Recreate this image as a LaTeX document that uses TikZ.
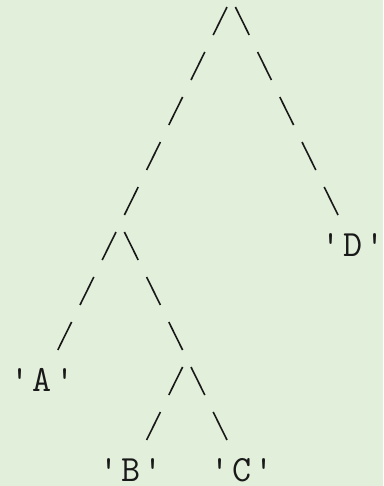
\documentclass[tikz,border=0pt]{standalone}
\usepackage{fontspec}
\usepackage{tikz}
\definecolor{paper}{RGB}{226,239,218}
\definecolor{ink}{RGB}{25,25,25}
\newcommand{\leaflabel}[1]{\makebox[8pt]{\textquotesingle}\hspace{7.1pt}\makebox[22.2pt]{#1}\hspace{7.1pt}\makebox[8pt]{\textquotesingle}}
\tikzset{
  treeleaf/.style={inner sep=0pt, text height=21pt, text depth=0pt, text=ink,
                   font=\ttfamily\fontsize{37}{42}\selectfont},
  branch/.style  ={draw=ink, line width=1.6pt,
                   dash pattern=on 31.2pt off 18.98pt, dash phase=40.69pt},
  toleaf/.style  ={branch, shorten >=25.09pt}
}
\begin{document}
\begin{tikzpicture}[x=22.2pt, y=-45pt]
  \path[use as bounding box, fill=paper] (-1.9144,-0.4667) rectangle (15.3378,10.3333);

  % ---------------- Junctions ----------------
  \coordinate (root) at (8.5,-0.5);
  \coordinate (n1)   at (3.5,4.5);
  \coordinate (n2)   at (6.5,7.5);

  % ---------------- Leaves ----------------
  \node[treeleaf] (A) at (0,8)  {\leaflabel{A}};
  \node[treeleaf] (B) at (4,10) {\leaflabel{B}};
  \node[treeleaf] (C) at (9,10) {\leaflabel{C}};
  \node[treeleaf] (D) at (14,5) {\leaflabel{D}};

  % ---------------- Edges ----------------
  \draw[branch] (root) -- (n1);
  \draw[toleaf] (root) -- (D.center);
  \draw[toleaf] (n1)   -- (A.center);
  \draw[branch] (n1)   -- (n2);
  \draw[toleaf] (n2)   -- (B.center);
  \draw[toleaf] (n2)   -- (C.center);
\end{tikzpicture}
\end{document}
